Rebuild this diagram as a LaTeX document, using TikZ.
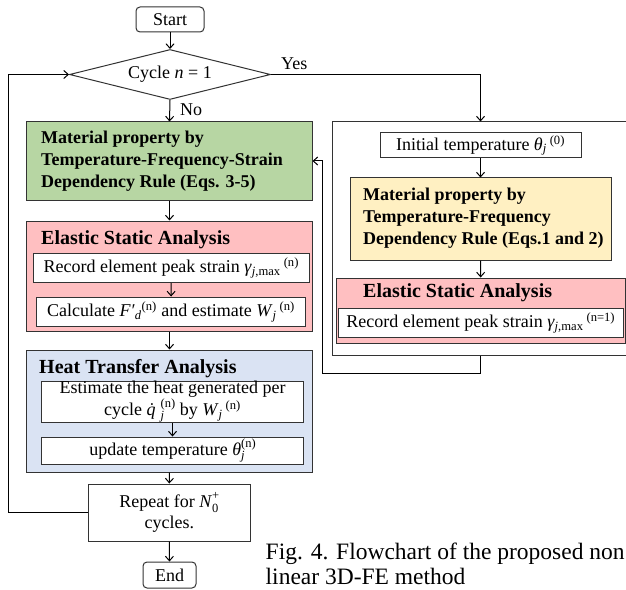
\documentclass[tikz,border=0pt]{standalone}
\usepackage{fontspec}
\setmainfont{Liberation Serif}
\usetikzlibrary{arrows.meta,shapes.geometric}

\definecolor{matgreen}{HTML}{B7D6A3}
\definecolor{elpink}{HTML}{FFBFC1}
\definecolor{heatblue}{HTML}{DAE3F3}
\definecolor{inityellow}{HTML}{FFF0C2}
\definecolor{edge}{HTML}{333333}

\newcommand\bodyfont{\fontsize{18bp}{22bp}\selectfont}
\newcommand\headfont{\fontsize{20bp}{24bp}\selectfont\bfseries}
\newcommand\capfont{\fontsize{23.5bp}{25bp}\selectfont}
\newcommand\sbs[1]{\textsubscript{#1}}
\newcommand\sps[1]{\textsuperscript{#1}}
\newcommand\scr{\fontsize{12.5bp}{12.5bp}\selectfont}
% subscript and superscript stacked on top of each other
\newcommand\stk[2]{\makebox[0pt][l]{\raisebox{-0.25em}{\scr #1}}\raisebox{0.45em}{\scr #2}}

\begin{document}
\begin{tikzpicture}[x=1bp,y=-1bp,
  box/.style={draw=edge, line width=1bp, inner sep=0pt, font=\bodyfont, align=center},
  term/.style={box, rounded corners=4bp},
  lbl/.style={inner sep=0pt, font=\bodyfont},
  hd/.style={inner sep=0pt, font=\headfont, anchor=west},
  flow/.style={draw=black, line width=1bp, -{Straight Barb[length=4.5bp,width=8bp]}}]
\clip (0,0) rectangle (626,590);

% ---------- main loop (left column) ----------
\node[term, minimum width=68bp, minimum height=25bp] (start) at (170,19.5) {Start};
\node[box, diamond, shape aspect=4, minimum width=201bp, minimum height=50bp] (dec) at (170,74.5) {Cycle \textit{n} = 1};
\node[lbl, anchor=west] (yes) at (281,64) {Yes};
\node[lbl, anchor=west] (no) at (180,110) {No};

\node[box, fill=matgreen, minimum width=285bp, minimum height=78bp] (mat) at (169.5,161) {};
\node[inner sep=0pt, anchor=west, align=left, font=\bodyfont\bfseries] (mattxt) at (41,161)
  {Material property by\\Temperature-Frequency-Strain\\Dependency Rule (Eqs. 3-5)};

\node[box, fill=elpink, minimum width=285bp, minimum height=110.5bp] (el) at (169.5,276.25) {};
\node[hd] (elhd) at (41,240) {Elastic Static Analysis};
\node[box, fill=white, minimum width=275.5bp, minimum height=29bp] (rec) at (171.25,268)
  {Record element peak strain \textit{γ}\sbs{\textit{j},max}\,\sps{(n)}};
\node[box, fill=white, minimum width=268bp, minimum height=29.6bp] (calc) at (171,311.8)
  {Calculate \textit{F′}\sbs{\textit{d}}\sps{(n)} and estimate \textit{W}\sbs{\textit{j}}\,\sps{(n)}};

\node[box, fill=heatblue, minimum width=285bp, minimum height=122bp] (heat) at (169.5,411) {};
\node[hd] (heathd) at (39,369) {Heat Transfer Analysis};
\node[box, fill=white, minimum width=261bp, minimum height=38bp, font=\fontsize{18bp}{17bp}\selectfont] (est) at (172.5,402)
  {Estimate the heat generated per\\cycle \textit{\.{q}}\stk{\textit{j}}{(n)} by \textit{W}\sbs{\textit{j}}\,\sps{(n)}};
\node[box, fill=white, minimum width=261bp, minimum height=27bp] (upd) at (172.5,450.5)
  {update temperature \textit{θ}\stk{\textit{j}}{(n)}};

\node[box, minimum width=161.4bp, minimum height=57bp, font=\fontsize{18bp}{21bp}\selectfont] (rep) at (169.3,512.5)
  {Repeat for \textit{N}\stk{0}{+}\\cycles.};
\node[term, minimum width=53bp, minimum height=26bp] (end) at (169.5,575) {End};

% ---------- first cycle (right column) ----------
\node[box, minimum width=308bp, minimum height=233bp] (first) at (486,238.5) {};
\node[box, fill=white, minimum width=201bp, minimum height=25bp] (init) at (480.5,145.5)
  {Initial temperature \textit{θ}\sbs{\textit{j}}\,\sps{(0)}};
\node[box, fill=inityellow, minimum width=261bp, minimum height=82bp] (tf) at (480.5,219) {};
\node[inner sep=0pt, anchor=west, align=left, font=\bodyfont\bfseries] (tftxt) at (363,218)
  {Material property by\\Temperature-Frequency\\Dependency Rule (Eqs.1 and 2)};
\node[box, fill=elpink, minimum width=288.5bp, minimum height=65.5bp] (el1) at (480.75,310.75) {};
\node[hd] (el1hd) at (363,293) {Elastic Static Analysis};
\node[box, fill=white, minimum width=284.5bp, minimum height=29bp] (rec1) at (480.75,323)
  {Record element peak strain \textit{γ}\sbs{\textit{j},max}\,\sps{(n=1)}};

% ---------- caption ----------
\node[inner sep=0pt, anchor=west, align=left, font=\capfont] (cap) at (265.5,563.5)
  {Fig. 4. Flowchart of the proposed non\\linear 3D-FE method};

% ---------- connectors ----------
\coordinate (loopx) at (8.8,512.5);
\coordinate (retx) at (322,373.6);
\draw[flow] (start) -- (dec);
\draw[flow] (dec.south) -- (mat.north);
\draw[flow] (dec.east) -| (init.north |- first.north);
\draw[flow] (init) -- (tf);
\draw[flow] (tf) -- (el1);
\draw[flow] (mat) -- (el);
\draw[flow] (rec) -- (calc);
\draw[flow] (el.south) -- (heat.north);
\draw[flow] (est) -- (upd);
\draw[flow] (heat.south) -- (rep.north);
\draw[flow] (rep) -- (end);
\draw[flow] (rep.west) -- (loopx) |- (dec.west);
\draw[flow] (init.center |- first.south) |- (retx) |- (mat.east);
\end{tikzpicture}
\end{document}
